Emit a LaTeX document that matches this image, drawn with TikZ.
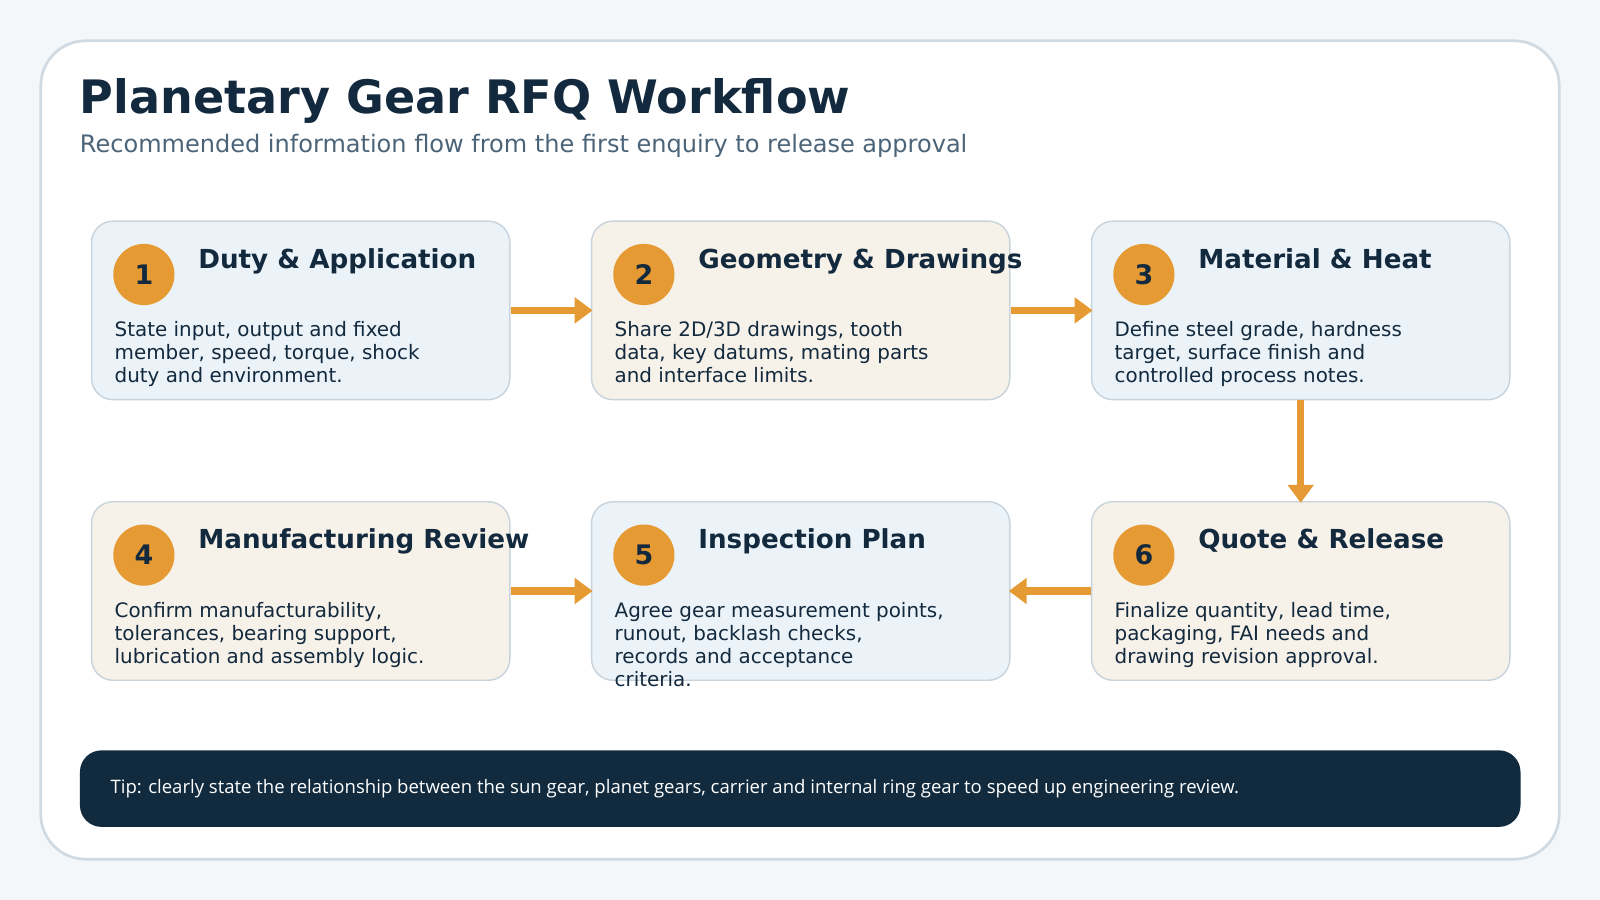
\documentclass[tikz,border=0pt]{standalone}
\usepackage{fontspec}
\setmainfont{DejaVu Sans}
\newfontfamily\tipfont{Open Sans}
\usetikzlibrary{arrows.meta}
\definecolor{bg}{HTML}{F3F7FA}
\definecolor{cardb}{HTML}{D0DAE2}
\definecolor{bluef}{HTML}{EBF3F9}
\definecolor{beigef}{HTML}{F6F2EA}
\definecolor{boxb}{HTML}{C9D3DC}
\definecolor{orng}{HTML}{E59A33}
\definecolor{navy}{HTML}{13293D}
\definecolor{sub}{HTML}{4C6478}
\definecolor{tipbg}{HTML}{112A3D}
\tikzset{
 box/.style={draw=boxb,line width=0.8pt,rounded corners=12pt,minimum width=8.2cm,minimum height=3.5cm,anchor=north west,inner sep=0},
 num/.style={circle,fill=orng,minimum size=1.2cm,inner sep=0,text=navy,font=\fontsize{15}{15}\selectfont\bfseries},
 ttl/.style={anchor=base west,text=navy,font=\fontsize{14.6}{16}\selectfont\bfseries,inner sep=0},
 body/.style={anchor=north west,text=navy,font=\fontsize{11.1}{12.8}\selectfont,align=left,inner sep=0},
 arr/.style={draw=orng,line width=4pt,-{Triangle[length=10pt,width=14pt]},shorten >=-1pt}
}
\begin{document}
\begin{tikzpicture}[x=0.02cm,y=-0.02cm]
\fill[bg] (0,0) rectangle (1568,882);
\useasboundingbox (0,0) rectangle (1568,882);
\draw[cardb,fill=white,line width=1.5pt,rounded corners=25pt] (40,40) rectangle (1528,842);
\node[anchor=base west,inner sep=0,text=navy,font=\fontsize{25.7}{28}\selectfont\bfseries] (title) at (78,111) {Planetary Gear RFQ Workflow};
\node[anchor=base west,inner sep=0,text=sub,font=\fontsize{13.4}{15}\selectfont] (subt) at (78,149) {Recommended information flow from the first enquiry to release approval};
\newcommand\stepbox[8]{%
 \node[box,fill=#4] (#1) at (#2,#3) {};
 \node[num] (#1n) at (#2+52,#3+53) {\raisebox{-3pt}{#5}};
 \node[ttl] (#1t) at (#2+105,#3+47) {#6};
 \node[body] (#1b) at (#2+23,#3+99) {#7};
}
\stepbox{b1}{89}{216}{bluef}{1}{Duty \& Application}{State input, output and fixed\\member, speed, torque, shock\\duty and environment.}{}
\stepbox{b2}{579}{216}{beigef}{2}{Geometry \& Drawings}{Share 2D/3D drawings, tooth\\data, key datums, mating parts\\and interface limits.}{}
\stepbox{b3}{1069}{216}{bluef}{3}{Material \& Heat}{Define steel grade, hardness\\target, surface finish and\\controlled process notes.}{}
\stepbox{b4}{89}{491}{beigef}{4}{Manufacturing Review}{Confirm manufacturability,\\tolerances, bearing support,\\lubrication and assembly logic.}{}
\stepbox{b5}{579}{491}{bluef}{5}{Inspection Plan}{Agree gear measurement points,\\runout, backlash checks,\\records and acceptance\\criteria.}{}
\stepbox{b6}{1069}{491}{beigef}{6}{Quote \& Release}{Finalize quantity, lead time,\\packaging, FAI needs and\\drawing revision approval.}{}
\draw[arr] (b1.east) -- (b2.west);
\draw[arr] (b2.east) -- (b3.west);
\draw[arr] (b3.south) -- (b6.north);
\draw[arr] (b4.east) -- (b5.west);
\draw[arr] (b6.west) -- (b5.east);
\node[fill=tipbg,rounded corners=12pt,minimum width=28.24cm,minimum height=1.5cm,anchor=north west,inner sep=0] (tip) at (78,735) {};
\node[anchor=west,inner sep=0,text=white,font=\tipfont\fontsize{10.35}{12}\selectfont] (tipt) at (108,773) {Tip: clearly state the relationship between the sun gear, planet gears, carrier and internal ring gear to speed up engineering review.};
\end{tikzpicture}
\end{document}
